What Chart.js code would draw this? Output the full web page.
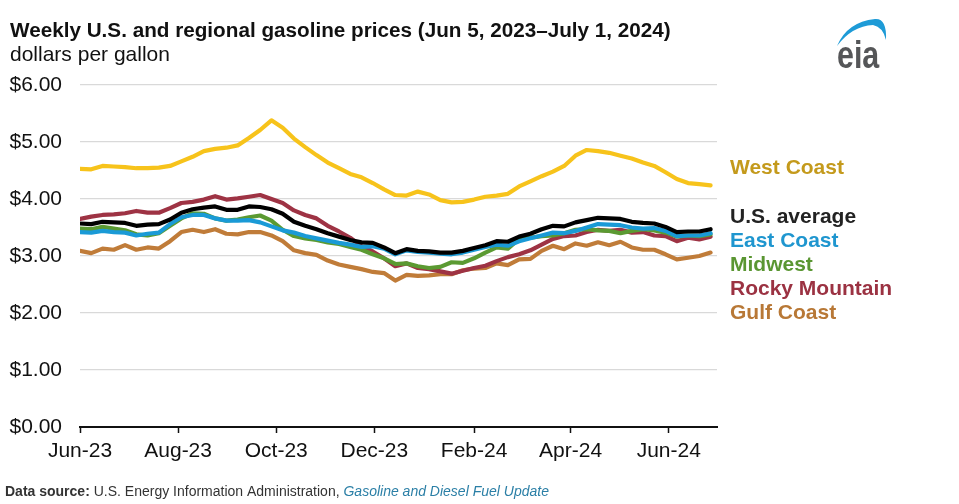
<!DOCTYPE html>
<html>
<head>
<meta charset="utf-8">
<script src="https://cdn.jsdelivr.net/npm/chart.js@4.4.1/dist/chart.umd.min.js"></script>
<style>
  html, body { margin: 0; padding: 0; background: #fff; }
  #wrap { width: 959px; height: 504px; position: relative; }
</style>
</head>
<body>
<div id="wrap"><canvas id="chart" width="959" height="504"></canvas></div>
<script>
// weekly observations, Jun 5 2023 .. Jul 1 2024
var firstWeek = '2023-06-05';
var weekCount = 57;

var tickDates = ['2023-06-05', '2023-08-05', '2023-10-05', '2023-12-05', '2024-02-05', '2024-04-05', '2024-06-05'];
var tickLabels = ['Jun-23', 'Aug-23', 'Oct-23', 'Dec-23', 'Feb-24', 'Apr-24', 'Jun-24'];

var westCoast = [4.53, 4.52, 4.58, 4.57, 4.56, 4.54, 4.54, 4.55, 4.58, 4.66, 4.74, 4.84, 4.88, 4.90, 4.94, 5.07, 5.21, 5.38, 5.25,
  5.06, 4.91, 4.77, 4.64, 4.54, 4.44, 4.38, 4.28, 4.17, 4.07, 4.06, 4.13, 4.08, 3.98, 3.94, 3.95, 3.99, 4.04, 4.06,
  4.09, 4.22, 4.31, 4.40, 4.48, 4.58, 4.76, 4.86, 4.84, 4.81, 4.76, 4.71, 4.64, 4.58, 4.47, 4.35, 4.28, 4.26, 4.24];
var usAverage = [3.57, 3.56, 3.60, 3.59, 3.58, 3.53, 3.55, 3.56, 3.64, 3.76, 3.82, 3.85, 3.87, 3.81, 3.81, 3.87, 3.86, 3.82, 3.74,
  3.60, 3.53, 3.47, 3.40, 3.34, 3.28, 3.24, 3.23, 3.15, 3.05, 3.12, 3.09, 3.08, 3.06, 3.06, 3.09, 3.14, 3.19, 3.26,
  3.25, 3.34, 3.39, 3.47, 3.53, 3.52, 3.59, 3.63, 3.67, 3.66, 3.65, 3.60, 3.58, 3.57, 3.51, 3.42, 3.43, 3.43, 3.47];
var eastCoast = [3.42, 3.41, 3.44, 3.42, 3.41, 3.36, 3.39, 3.41, 3.56, 3.68, 3.72, 3.72, 3.66, 3.62, 3.62, 3.63, 3.59, 3.52, 3.45,
  3.41, 3.35, 3.31, 3.27, 3.23, 3.20, 3.16, 3.17, 3.13, 3.03, 3.10, 3.07, 3.06, 3.04, 3.03, 3.06, 3.11, 3.16, 3.20,
  3.18, 3.26, 3.31, 3.36, 3.41, 3.40, 3.44, 3.50, 3.56, 3.55, 3.54, 3.50, 3.48, 3.49, 3.44, 3.35, 3.36, 3.36, 3.40];
var midwest = [3.48, 3.47, 3.51, 3.48, 3.45, 3.38, 3.36, 3.40, 3.53, 3.66, 3.75, 3.74, 3.66, 3.62, 3.64, 3.68, 3.71, 3.62, 3.46,
  3.35, 3.31, 3.28, 3.24, 3.21, 3.16, 3.11, 3.03, 2.96, 2.86, 2.87, 2.82, 2.79, 2.81, 2.89, 2.88, 2.96, 3.06, 3.15,
  3.13, 3.30, 3.32, 3.35, 3.36, 3.40, 3.46, 3.47, 3.45, 3.44, 3.40, 3.44, 3.47, 3.45, 3.41, 3.34, 3.36, 3.35, 3.38];
var rockyMountain = [3.65, 3.69, 3.72, 3.73, 3.75, 3.79, 3.76, 3.76, 3.84, 3.93, 3.95, 3.99, 4.05, 3.99, 4.01, 4.04, 4.07, 4.00, 3.93,
  3.80, 3.72, 3.66, 3.53, 3.43, 3.32, 3.17, 3.08, 2.96, 2.82, 2.87, 2.79, 2.77, 2.73, 2.69, 2.74, 2.79, 2.83, 2.91,
  2.98, 3.03, 3.10, 3.20, 3.30, 3.35, 3.36, 3.42, 3.46, 3.44, 3.46, 3.41, 3.42, 3.36, 3.35, 3.26, 3.32, 3.29, 3.34];
var gulfCoast = [3.09, 3.05, 3.13, 3.11, 3.19, 3.11, 3.15, 3.13, 3.26, 3.42, 3.46, 3.42, 3.47, 3.39, 3.38, 3.42, 3.42, 3.36, 3.26,
  3.10, 3.05, 3.02, 2.92, 2.85, 2.81, 2.77, 2.72, 2.70, 2.57, 2.67, 2.65, 2.66, 2.68, 2.68, 2.75, 2.78, 2.79, 2.87,
  2.84, 2.94, 2.95, 3.09, 3.18, 3.12, 3.22, 3.18, 3.24, 3.19, 3.25, 3.15, 3.11, 3.11, 3.03, 2.94, 2.97, 3.00, 3.06];

var yTicks = [0, 1, 2, 3, 4, 5, 6];

var DAY = 86400000;
function dayOffset(s) { return Math.round((Date.parse(s) - Date.parse(firstWeek)) / DAY); }
var tickDays = tickDates.map(dayOffset);

function pts(arr) {
  return arr.map(function (v, i) { return { x: i * 7, y: v }; });
}

var FONT = "'Liberation Sans', Arial, sans-serif";

var series = [
  { label: 'U.S. average', data: usAverage, color: '#000000', text: '#222222', ly: 217 },
  { label: 'East Coast', data: eastCoast, color: '#1a9ad6', text: '#1f96cf', ly: 241 },
  { label: 'Midwest', data: midwest, color: '#5b9a32', text: '#5a9632', ly: 265 },
  { label: 'Rocky Mountain', data: rockyMountain, color: '#9e3344', text: '#9b3242', ly: 289 },
  { label: 'Gulf Coast', data: gulfCoast, color: '#c07c39', text: '#b87836', ly: 313 },
  { label: 'West Coast', data: westCoast, color: '#f7c31b', text: '#c49a1c', ly: 168 }
];

var decor = {
  id: 'decor',
  afterDraw: function (chart) {
    var ctx = chart.ctx, area = chart.chartArea;
    ctx.save();
    ctx.textBaseline = 'middle';
    ctx.textAlign = 'left';
    // title + units
    ctx.fillStyle = '#111';
    ctx.font = 'bold 20.7px ' + FONT;
    ctx.fillText('Weekly U.S. and regional gasoline prices (Jun 5, 2023\u2013July 1, 2024)', 10, 31);
    ctx.font = '21px ' + FONT;
    ctx.fillText('dollars per gallon', 10, 55);

    // series labels on the right
    ctx.font = 'bold 21px ' + FONT;
    series.forEach(function (s) {
      ctx.fillStyle = s.text;
      ctx.fillText(s.label, area.right + 13, s.ly);
    });

    // footer
    var fy = 492, fx = 5;
    ctx.font = 'bold 14px ' + FONT;
    ctx.fillStyle = '#333';
    ctx.fillText('Data source:', fx, fy);
    fx += ctx.measureText('Data source: ').width;
    ctx.font = '14px ' + FONT;
    var src = 'U.S. Energy Information Administration, ';
    ctx.fillText(src, fx, fy);
    fx += ctx.measureText(src).width;
    ctx.font = 'italic 14px ' + FONT;
    ctx.fillStyle = '#2b7fa6';
    ctx.fillText('Gasoline and Diesel Fuel Update', fx, fy);

    // eia logo
    ctx.fillStyle = '#1e9bd7';
    ctx.beginPath();
    ctx.moveTo(837, 46);
    ctx.quadraticCurveTo(847, 22, 875, 19);
    ctx.quadraticCurveTo(887, 18, 886, 40);
    ctx.quadraticCurveTo(883, 27, 873, 25);
    ctx.quadraticCurveTo(852, 26, 837, 46);
    ctx.fill();
    ctx.translate(837, 68);
    ctx.scale(0.8, 1);
    ctx.fillStyle = '#555658';
    ctx.textBaseline = 'alphabetic';
    ctx.font = 'bold 38px ' + FONT;
    ctx.fillText('eia', 0, 0);
    ctx.restore();
  }
};

new Chart(document.getElementById('chart').getContext('2d'), {
  type: 'line',
  data: {
    datasets: series.map(function (s, i) {
      return {
        label: s.label,
        data: pts(s.data),
        borderColor: s.color,
        backgroundColor: s.color,
        borderWidth: 4.2,
        pointRadius: 0,
        tension: 0,
        borderJoinStyle: 'round',
        borderCapStyle: 'round',
        order: i
      };
    })
  },
  options: {
    responsive: false,
    animation: false,
    layout: { padding: { top: 85, right: 242, left: 0, bottom: 0 } },
    plugins: { legend: { display: false }, tooltip: { enabled: false } },
    scales: {
      x: {
        type: 'linear',
        min: 0,
        max: 396,
        afterBuildTicks: function (scale) {
          scale.ticks = tickDays.map(function (d) { return { value: d }; });
        },
        afterFit: function (scale) { scale.height = 77; },
        ticks: {
          autoSkip: false,
          maxRotation: 0,
          padding: 6,
          color: '#111',
          font: { family: FONT, size: 21 },
          callback: function (v) { return tickLabels[tickDays.indexOf(v)]; }
        },
        grid: { drawOnChartArea: false, drawTicks: true, tickLength: 6, tickColor: '#111', tickWidth: 1.5 },
        border: { display: true, color: '#111', width: 2 }
      },
      y: {
        min: 0,
        max: 6,
        afterBuildTicks: function (scale) {
          scale.ticks = yTicks.map(function (v) { return { value: v }; });
        },
        afterFit: function (scale) { scale.width = 80; },
        ticks: {
          padding: 18,
          color: '#111',
          font: { family: FONT, size: 21 },
          callback: function (v) { return '$' + v.toFixed(2); }
        },
        grid: { color: '#d9d9d9', lineWidth: 1.3, drawTicks: false },
        border: { display: false }
      }
    }
  },
  plugins: [decor]
});
</script>
</body>
</html>
